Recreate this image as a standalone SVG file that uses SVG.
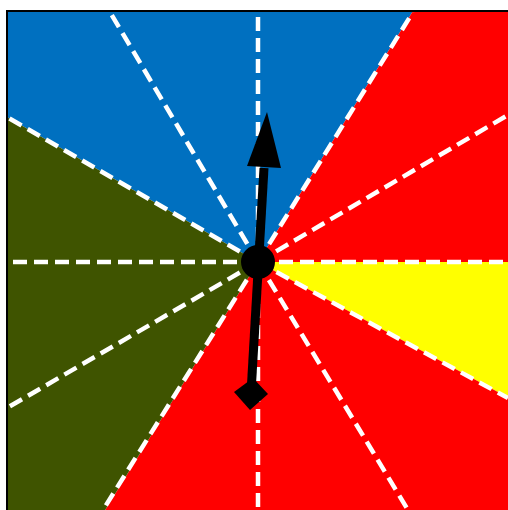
<svg xmlns="http://www.w3.org/2000/svg" width="508" height="510" viewBox="0 0 508 510">
  <defs>
    <style>
      .ray { stroke: #ffffff; stroke-width: 4.5; stroke-dasharray: 14 7; fill: none; }
    </style>
    <clipPath id="box">
      <rect x="7" y="11" width="510" height="510"/>
    </clipPath>
  </defs>
  <rect x="0" y="0" width="508" height="510" fill="#ffffff"/>
  <g id="sectors" clip-path="url(#box)">
    <polygon id="blue" points="258,262 7,117 7,11 413,11" fill="#0070c0"/>
    <polygon id="red-top" points="258,262 413,11 520,11 520,262" fill="#ff0000"/>
    <polygon id="yellow" points="258,262 520,262 520,404" fill="#ffff00"/>
    <polygon id="red-bottom" points="258,262 520,404 520,520 99,520" fill="#ff0000"/>
    <polygon id="green" points="258,262 99,520 7,520 7,117" fill="#3f5400"/>
  </g>
  <g id="connectors" clip-path="url(#box)">
    <line class="ray" x1="258" y1="262" x2="258" y2="12"/>
    <line class="ray" x1="258" y1="262" x2="413" y2="12"/>
    <line class="ray" x1="258" y1="262" x2="508" y2="115"/>
    <line class="ray" x1="258" y1="262" x2="508" y2="262"/>
    <line class="ray" x1="258" y1="262" x2="508" y2="398"/>
    <line class="ray" x1="258" y1="262" x2="408" y2="510"/>
    <line class="ray" x1="258" y1="262" x2="258" y2="510"/>
    <line class="ray" x1="258" y1="262" x2="103" y2="510"/>
    <line class="ray" x1="258" y1="262" x2="7" y2="408"/>
    <line class="ray" x1="258" y1="262" x2="7" y2="262"/>
    <line class="ray" x1="258" y1="262" x2="7" y2="117"/>
    <line class="ray" x1="258" y1="262" x2="110" y2="12"/>
  </g>
  <g id="frame">
    <line x1="6" y1="11" x2="508" y2="11" stroke="#000000" stroke-width="2"/>
    <line x1="7" y1="10" x2="7" y2="510" stroke="#000000" stroke-width="2"/>
  </g>
  <g id="needle">
    <line x1="251" y1="393" x2="264" y2="168" stroke="#000000" stroke-width="9"/>
    <polygon points="267,112 281,168 247,166" fill="#000000"/>
    <polygon points="234,392 253,378 268,394 250,410" fill="#000000"/>
  </g>
  <g id="hub">
    <circle cx="258" cy="262" r="17" fill="#000000"/>
  </g>
</svg>
